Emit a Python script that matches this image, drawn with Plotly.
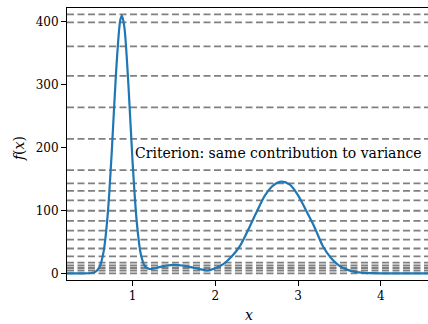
import plotly.graph_objects as go

# Density curve
x_vals = [0.20, 0.30, 0.40, 0.50, 0.55, 0.60, 0.65, 0.70, 0.75, 0.80, 0.85, 0.87, 0.90, 0.95,
          1.00, 1.05, 1.10, 1.15, 1.20, 1.25, 1.30, 1.40, 1.50, 1.60, 1.70, 1.80, 1.90,
          2.00, 2.10, 2.20, 2.30, 2.40, 2.50, 2.60, 2.70, 2.80, 2.90, 3.00, 3.10, 3.20,
          3.30, 3.40, 3.50, 3.60, 3.70, 3.80, 3.90, 4.00, 4.20, 4.40, 4.60]
f_vals = [0.0, 0.0, 0.0, 0.5, 2.4, 10.0, 35.0, 95.0, 198.0, 320.0, 402.0, 410.0, 392.0, 298.0,
          176.0, 82.0, 30.0, 11.0, 7.0, 7.5, 9.0, 12.0, 13.5, 12.5, 10.0, 7.0, 4.5,
          8.0, 15.0, 27.0, 44.0, 70.0, 98.0, 124.0, 140.0, 146.0, 141.0, 124.0, 99.0, 73.0,
          43.0, 24.0, 12.0, 5.5, 2.0, 0.8, 0.3, 0.0, 0.0, 0.0, 0.0]

# Horizontal dashed levels (same contribution to variance)
levels = [0, 4.5, 8.5, 12.5, 17, 27, 39.5, 53.5, 68, 83.5, 99.5, 116, 131, 143, 164,
          214, 264, 314, 361, 399, 412]

x_ticks = [1, 2, 3, 4]
y_ticks = [0, 100, 200, 300, 400]
annotation_text = "Criterion: same contribution to variance"
x_title = "<i>x</i>"
y_title = "<i>f</i>(<i>x</i>)"

x_range = [0.207, 4.57]
y_range = [-10.6, 422]

FONT = "DejaVu Serif"

fig = go.Figure()

for lv in levels:
    fig.add_trace(go.Scatter(
        x=x_range, y=[lv, lv], mode="lines",
        line=dict(color="#808080", width=1.8, dash="7px,3.5px"),
        hoverinfo="skip", showlegend=False,
    ))

fig.add_trace(go.Scatter(
    x=x_vals, y=f_vals, mode="lines",
    line=dict(color="#1f77b4", width=2.2, shape="spline", smoothing=0.8),
    showlegend=False,
))

fig.add_annotation(
    x=1.01, y=191, xref="x", yref="y", text=annotation_text,
    showarrow=False, xanchor="left", yanchor="middle",
    font=dict(family=FONT, size=14, color="black"),
)
fig.add_annotation(
    x=0.504, y=-0.128, xref="paper", yref="paper", text=x_title,
    showarrow=False, xanchor="center", yanchor="middle",
    font=dict(family=FONT, size=14, color="black"),
)
fig.add_annotation(
    x=-0.133, y=0.485, xref="paper", yref="paper", text=y_title,
    showarrow=False, xanchor="center", yanchor="middle", textangle=-90,
    font=dict(family=FONT, size=14, color="black"),
)

fig.update_layout(
    width=428, height=324,
    margin=dict(l=67, r=0, t=8, b=44),
    paper_bgcolor="white", plot_bgcolor="white",
    font=dict(family=FONT, size=12, color="black"),
    showlegend=False,
)

fig.update_xaxes(
    range=x_range, tickvals=x_ticks, ticktext=[str(t) for t in x_ticks],
    showgrid=False, zeroline=False, showline=True, linecolor="black", linewidth=1.1,
    mirror=True, ticks="outside", ticklen=5, tickwidth=1, tickcolor="black",
    automargin=False, tickfont=dict(family=FONT, size=12),
)
fig.update_yaxes(
    range=y_range, tickvals=y_ticks, ticktext=[str(t) for t in y_ticks],
    showgrid=False, zeroline=False, showline=True, linecolor="black", linewidth=1.1,
    mirror=False, ticks="outside", ticklen=5, tickwidth=1, tickcolor="black",
    automargin=False, tickfont=dict(family=FONT, size=12),
)

fig.write_html(
    "out.html",
    config={"displayModeBar": False},
    post_script="document.body.style.margin='0';document.body.style.overflow='hidden';",
)
